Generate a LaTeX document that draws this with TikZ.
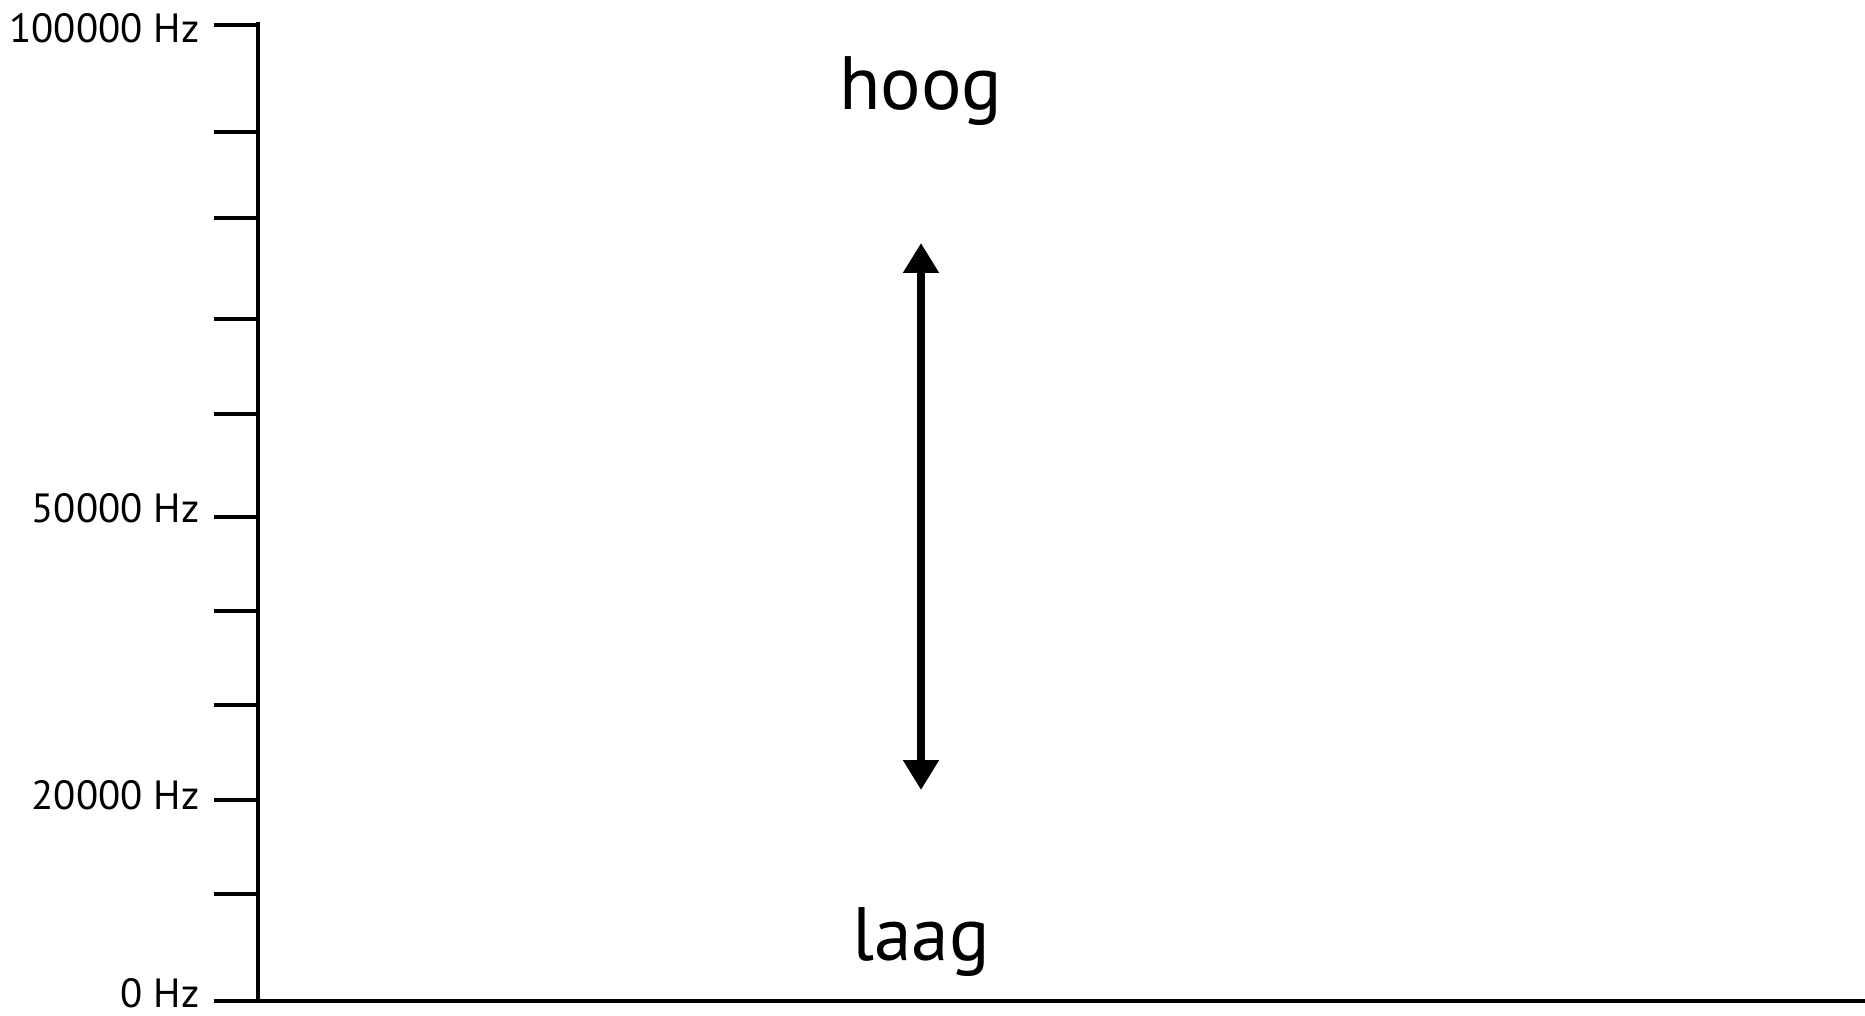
\documentclass[tikz,border=0pt]{standalone}
\usepackage{fontspec}
\setmainfont{PT Sans}
\usetikzlibrary{arrows.meta}
\tikzset{
	axislbl/.style={anchor=base east, inner sep=0pt, font=\fontsize{11.6}{13}\selectfont},
	wordlbl/.style={anchor=base, inner sep=0pt, font=\fontsize{21.5}{24}\selectfont},
}
\begin{document}
\begin{tikzpicture}[x=0.01cm, y=-0.01cm]
		
		% 0. Vaste afmetingen
		\useasboundingbox (0,0) rectangle (1865,1016);
		
		% 1. Assen
		\coordinate (top) at (258,22);
		\coordinate (orig) at (258,1001);
		\coordinate (xend) at (1865,1001);
		\draw[line width=1.15pt] (top) -- (orig);
		\draw[line width=1.15pt] (214,1001) -- (xend);
		
		% 2. Streepjes langs de as
		\foreach \y in {24.7,132,218,319,414,517,611,705,800,894}
		\draw[line width=1.15pt] (214,\y) -- (258,\y);
		
		% 3. Frequenties
		\node[axislbl] (f100k) at (200,43) {100000 Hz};
		\node[axislbl] (f50k) at (200,523) {50000 Hz};
		\node[axislbl] (f20k) at (200,810) {20000 Hz};
		\node[axislbl] (f0) at (200,1008) {0 Hz};
		
		% 4. Hoog en laag met dubbele pijl
		\node[wordlbl] (hoog) at (921,110) {hoog};
		\node[wordlbl] (laag) at (921,961) {laag};
		\coordinate (pijlboven) at (921,243);
		\coordinate (pijlonder) at (921,790);
		\draw[{Triangle[width=9.7pt,length=8.5pt]}-{Triangle[width=9.7pt,length=8.5pt]}, line width=2.5pt]
		(pijlboven) -- (pijlonder);
		
	\end{tikzpicture}
\end{document}
